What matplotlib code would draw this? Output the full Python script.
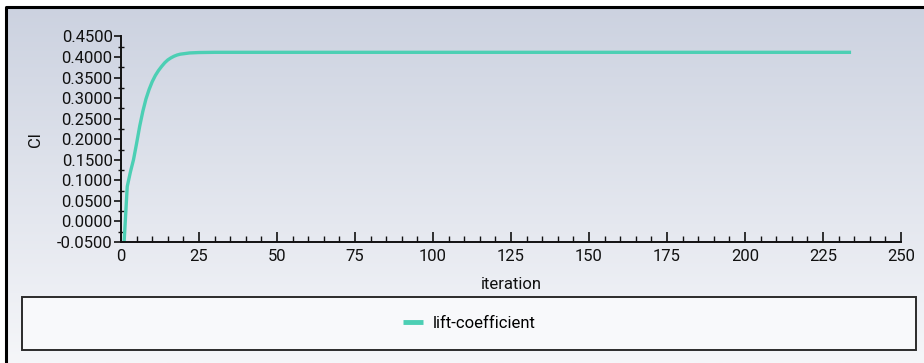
import numpy as np
import matplotlib
matplotlib.use('Agg')
import matplotlib.pyplot as plt
from matplotlib.patches import Rectangle
from matplotlib.ticker import MultipleLocator, FormatStrFormatter

plt.rcParams['font.family'] = ['Roboto', 'DejaVu Sans']

# lift coefficient history
iteration = [1, 2, 3, 4, 5, 6, 7, 8, 9, 10, 11, 12, 13, 14, 15, 16, 17, 18, 19, 20,
             22, 25, 30, 234]
cl = [-0.050, 0.085, 0.120, 0.150, 0.190, 0.232, 0.268, 0.298, 0.321, 0.340,
      0.355, 0.367, 0.377, 0.386, 0.393, 0.398, 0.402, 0.405, 0.407, 0.408,
      0.410, 0.411, 0.4115, 0.4115]
series_name = 'lift-coefficient'

W, H = 924, 363
fig = plt.figure(figsize=(W / 100, H / 100), dpi=100)
fig.patch.set_facecolor('white')

# background panel with vertical gradient
bg = fig.add_axes([0, 0, 1, 1])
bg.set_xlim(0, W)
bg.set_ylim(H, 0)
bg.axis('off')
top_c = np.array([204, 210, 224]) / 255
bot_c = np.array([245, 246, 249]) / 255
t = np.linspace(0, 1, 256)[:, None]
grad = (top_c[None, :] * (1 - t) + bot_c[None, :] * t)[:, None, :]
bg.imshow(grad, extent=[6, W, H, 7], aspect='auto', zorder=0)
bg.plot([6, 6, W], [H, 7, 7], color='black', lw=2.2, zorder=1,
        solid_capstyle='butt')
bg.add_patch(Rectangle((22, 297), 894, 53, facecolor='#f8f9fb',
                       edgecolor='#2b2b2b', lw=1.4, zorder=2))

ax = fig.add_axes([121 / W, 1 - 242 / H, 780 / W, 205.5 / H])
ax.patch.set_alpha(0)
ax.plot(iteration, cl, color='#4ccfb4', lw=2.4, label=series_name,
        solid_capstyle='butt')
ax.set_xlim(0, 250)
ax.set_ylim(-0.05, 0.45)
ax.xaxis.set_major_locator(MultipleLocator(25))
ax.xaxis.set_minor_locator(MultipleLocator(5))
ax.yaxis.set_major_locator(MultipleLocator(0.05))
ax.yaxis.set_minor_locator(MultipleLocator(0.025))
ax.yaxis.set_major_formatter(FormatStrFormatter('%.4f'))

for s in ['top', 'right']:
    ax.spines[s].set_visible(False)
for s in ['left', 'bottom']:
    ax.spines[s].set_linewidth(1.4)
    ax.spines[s].set_color('#111111')

fs = 12
ax.tick_params(axis='x', which='major', direction='in', length=7, width=1.2,
               labelsize=fs, pad=5, colors='#111111')
ax.tick_params(axis='x', which='minor', direction='in', length=4, width=1.0,
               colors='#111111')
ax.tick_params(axis='y', which='major', direction='out', length=5, width=1.2,
               labelsize=fs, pad=1, colors='#111111')
ax.tick_params(axis='y', which='minor', direction='inout', length=4, width=1.0,
               colors='#111111')

ax.set_xlabel('iteration', fontsize=fs, color='#111111')
ax.xaxis.set_label_coords(0.5, -0.17)
ax.set_ylabel('Cl', fontsize=fs, color='#111111')
ax.yaxis.set_label_coords(-0.1, 0.5)

handles, labels = ax.get_legend_handles_labels()
leg = fig.legend(handles, labels, loc='center',
                 bbox_to_anchor=(22 / W, 1 - 350 / H, 894 / W, 53 / H),
                 frameon=False, fontsize=fs, handlelength=1.2,
                 handletextpad=0.6)
for line in leg.get_lines():
    line.set_linewidth(3.5)

fig.savefig('out.png', dpi=100)
